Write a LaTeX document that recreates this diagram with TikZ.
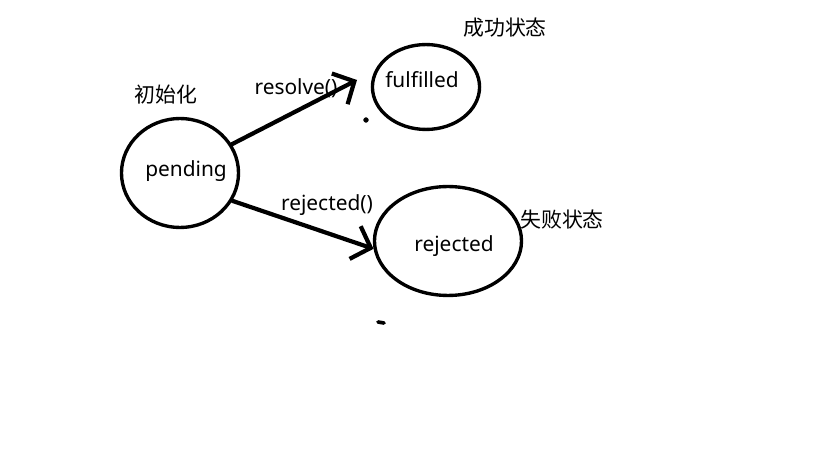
\documentclass[tikz,border=0pt]{standalone}
\usepackage{fontspec}
\setmainfont{Noto Sans}
\newfontfamily\cjk{Noto Sans CJK SC}
\usetikzlibrary{shapes.geometric,arrows.meta}
\tikzset{
  state/.style={draw, ellipse, line width=3.2pt, inner sep=0pt},
  trans/.style={line width=4pt, line cap=round, -{Straight Barb[length=0.55cm, width=1.15cm, line width=4pt]}},
  txt/.style={font=\fontsize{19.8}{23}\selectfont, inner sep=0pt}
}
\begin{document}
\begin{tikzpicture}[x=0.03333cm, y=-0.03333cm]
                \useasboundingbox (0,0) rectangle (819,460);

                \node[state, minimum width=3.9cm, minimum height=3.63cm] (pending) at (180,173) {};
                \node[state, minimum width=3.57cm, minimum height=2.83cm] (fulfilled) at (426,87) {};
                \node[state, minimum width=4.9cm, minimum height=3.63cm] (rejected) at (448,241) {};

                \node[txt] (pendingtxt) at (186,171) {pending};
                \node[txt] (fulfilledtxt) at (422,80) {fulfilled};
                \node[txt] (rejectedtxt) at (454,246) {rejected};

                \node[txt] (init) at (166,95) {\cjk 初始化};
                \node[txt] (success) at (505,28) {\cjk 成功状态};
                \node[txt] (fail) at (562,220) {\cjk 失败状态};

                \node[txt] (resolvelbl) at (296,88) {resolve()};
                \node[txt] (rejectlbl) at (327,205) {rejected()};

                \coordinate (resolvetip) at (357,80);
                \draw[trans] (pending.29) -- (resolvetip);
                \draw[trans] (pending.-28) -- (rejected.186);

                \filldraw (366,120) circle (2.3pt);
                \draw[line width=3.5pt, line cap=round] (378,322) -- (384,323);
\end{tikzpicture}
\end{document}
